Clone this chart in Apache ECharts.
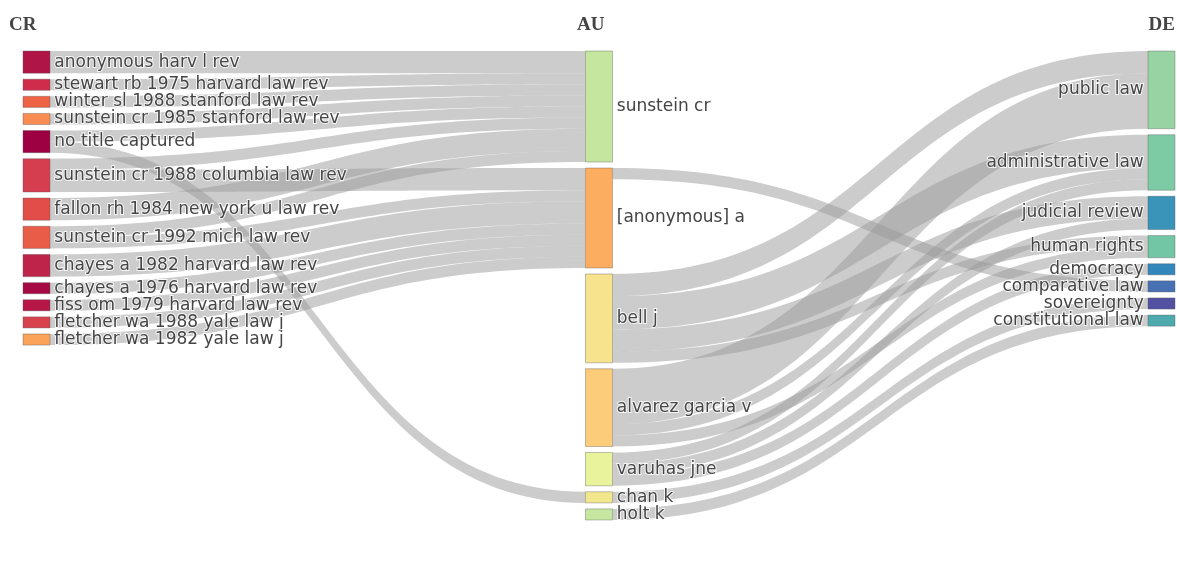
<!DOCTYPE html>
<html>
<head>
<meta charset="utf-8">
<script src="https://cdn.jsdelivr.net/npm/echarts@6/dist/echarts.min.js"></script>
<style>
html,body{margin:0;padding:0;background:#fff;}
#chart{width:1177px;height:563px;}
</style>
</head>
<body>
<div id="chart"></div>
<script>
// ---- data ----
const fieldTitles = ['CR', 'AU', 'DE'];

const crNodes = [
  'anonymous harv l rev',
  'stewart rb 1975 harvard law rev',
  'winter sl 1988 stanford law rev',
  'sunstein cr 1985 stanford law rev',
  'no title captured',
  'sunstein cr 1988 columbia law rev',
  'fallon rh 1984 new york u law rev',
  'sunstein cr 1992 mich law rev',
  'chayes a 1982 harvard law rev',
  'chayes a 1976 harvard law rev',
  'fiss om 1979 harvard law rev',
  'fletcher wa 1988 yale law j',
  'fletcher wa 1982 yale law j'
];
const auNodes = [
  'sunstein cr',
  '[anonymous] a',
  'bell j',
  'alvarez garcia v',
  'varuhas jne',
  'chan k',
  'holt k'
];
const deNodes = [
  'public law',
  'administrative law',
  'judicial review',
  'human rights',
  'democracy',
  'comparative law',
  'sovereignty',
  'constitutional law'
];

// [source, target, value]
const crAuLinks = [
  ['anonymous harv l rev', 'sunstein cr', 2],
  ['stewart rb 1975 harvard law rev', 'sunstein cr', 1],
  ['winter sl 1988 stanford law rev', 'sunstein cr', 1],
  ['sunstein cr 1985 stanford law rev', 'sunstein cr', 1],
  ['no title captured', 'sunstein cr', 1],
  ['no title captured', 'chan k', 1],
  ['sunstein cr 1988 columbia law rev', 'sunstein cr', 1],
  ['sunstein cr 1988 columbia law rev', '[anonymous] a', 2],
  ['fallon rh 1984 new york u law rev', 'sunstein cr', 2],
  ['sunstein cr 1992 mich law rev', 'sunstein cr', 1],
  ['sunstein cr 1992 mich law rev', '[anonymous] a', 1],
  ['chayes a 1982 harvard law rev', '[anonymous] a', 2],
  ['chayes a 1976 harvard law rev', '[anonymous] a', 1],
  ['fiss om 1979 harvard law rev', '[anonymous] a', 1],
  ['fletcher wa 1988 yale law j', '[anonymous] a', 1],
  ['fletcher wa 1982 yale law j', '[anonymous] a', 1]
];
const auDeLinks = [
  ['[anonymous] a', 'comparative law', 1],
  ['bell j', 'public law', 2],
  ['bell j', 'administrative law', 3],
  ['bell j', 'judicial review', 2],
  ['bell j', 'human rights', 1],
  ['alvarez garcia v', 'public law', 5],
  ['alvarez garcia v', 'administrative law', 1],
  ['alvarez garcia v', 'human rights', 1],
  ['varuhas jne', 'administrative law', 1],
  ['varuhas jne', 'judicial review', 1],
  ['varuhas jne', 'democracy', 1],
  ['chan k', 'sovereignty', 1],
  ['holt k', 'constitutional law', 1]
];

// ---- styles ----
const crColors = ['#b01547', '#cf2c4b', '#ee6245', '#f98c52', '#9e0142', '#d53e4f',
  '#e24d4a', '#e95c47', '#be2449', '#a60a44', '#b61747', '#d8424c', '#fca35a'];
const auColors = ['#c4e69f', '#fdad60', '#f7e28d', '#fdcc7b', '#e8f39b', '#f3e78e', '#c6e7a0'];
const deColors = ['#98d4a3', '#7dcba5', '#3a94b9', '#72c6a5', '#3288bd', '#4771b2', '#5251a2', '#4faaad'];

const labelBase = {
  color: '#444',
  fontFamily: 'DejaVu Sans',
  fontSize: 17,
  textBorderColor: 'rgba(255,255,255,0.85)',
  textBorderWidth: 2,
  distance: 4
};

function makeNodes(names, colors, depth, pos) {
  return names.map((n, i) => ({
    name: n,
    depth: depth,
    itemStyle: { color: colors[i], borderColor: 'rgba(80,80,80,0.6)', borderWidth: 0.6 },
    label: Object.assign({ position: pos }, labelBase)
  }));
}

const nodes = [].concat(
  makeNodes(crNodes, crColors, 0, 'right'),
  makeNodes(auNodes, auColors, 1, 'right'),
  makeNodes(deNodes, deColors, 2, 'left')
);
const links = crAuLinks.concat(auDeLinks).map(l => ({ source: l[0], target: l[1], value: l[2] }));

const chart = echarts.init(document.getElementById('chart'), null, { renderer: 'canvas' });
chart.setOption({
  animation: false,
  backgroundColor: '#fff',
  title: [
    { text: fieldTitles[0], left: 4, top: 11 },
    { text: fieldTitles[1], left: 572, top: 11 },
    { text: fieldTitles[2], right: -3, top: 11 }
  ].map(t => Object.assign(t, {
    textStyle: { fontFamily: 'Liberation Serif', fontWeight: 'bold', fontSize: 19, color: '#444' }
  })),
  series: [{
    type: 'sankey',
    left: 23,
    right: 2,
    top: 51,
    bottom: 43,
    nodeWidth: 27,
    nodeGap: 6,
    nodeAlign: 'left',
    layoutIterations: 0,
    draggable: false,
    emphasis: { disabled: true },
    data: nodes,
    links: links,
    lineStyle: { color: '#999', opacity: 0.5, curveness: 0.5 }
  }]
});
</script>
</body>
</html>
